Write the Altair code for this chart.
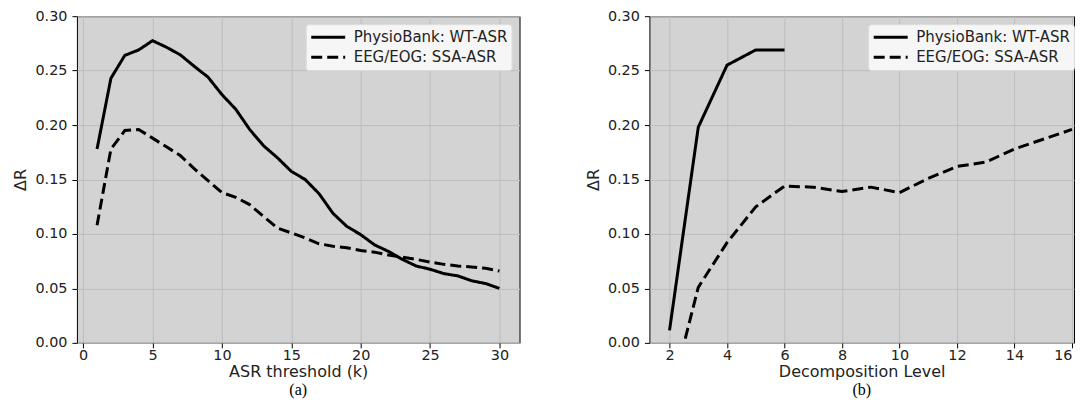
import altair as alt
import pandas as pd

series_names = ["PhysioBank: WT-ASR", "EEG/EOG: SSA-ASR"]

# Panel (a): Delta R vs ASR threshold k
k_vals = list(range(1, 31))
wt_asr_k = [0.178, 0.243, 0.264, 0.269, 0.2775, 0.2715, 0.2645, 0.254, 0.244, 0.228,
            0.2145, 0.196, 0.181, 0.170, 0.1575, 0.150, 0.137, 0.119, 0.107, 0.0994,
            0.090, 0.084, 0.0767, 0.0706, 0.0676, 0.0636, 0.0615, 0.057, 0.0545, 0.050]
ssa_asr_k = [0.108, 0.178, 0.195, 0.196, 0.188, 0.180, 0.172, 0.160, 0.149, 0.138,
             0.1336, 0.127, 0.116, 0.1055, 0.101, 0.0964, 0.091, 0.0888, 0.0873, 0.0848,
             0.0833, 0.0806, 0.0788, 0.0767, 0.0742, 0.0721, 0.0706, 0.0697, 0.0685, 0.066]

# Panel (b): Delta R vs decomposition level
levels_wt = [2, 3, 4, 5, 6]
wt_level = [0.0115, 0.198, 0.255, 0.269, 0.269]
levels_ssa = list(range(2, 17))
ssa_level = [-0.053, 0.051, 0.092, 0.125, 0.144, 0.143, 0.139, 0.143, 0.138, 0.151,
             0.162, 0.166, 0.178, 0.187, 0.196]

y_ticks = [0.0, 0.05, 0.10, 0.15, 0.20, 0.25, 0.30]
x_ticks_a = [0, 5, 10, 15, 20, 25, 30]
x_ticks_b = [2, 4, 6, 8, 10, 12, 14, 16]

df_a = pd.concat([
    pd.DataFrame({"x": k_vals, "y": wt_asr_k, "series": series_names[0]}),
    pd.DataFrame({"x": k_vals, "y": ssa_asr_k, "series": series_names[1]}),
])
df_b = pd.concat([
    pd.DataFrame({"x": levels_wt, "y": wt_level, "series": series_names[0]}),
    pd.DataFrame({"x": levels_ssa, "y": ssa_level, "series": series_names[1]}),
])


def legend(lx):
    return alt.Legend(
        title=None, orient="none", legendX=lx, legendY=8,
        symbolType="stroke", symbolSize=1156, symbolStrokeWidth=3,
        clipHeight=18, rowPadding=2, padding=4, labelOffset=7,
        labelFont="DejaVu Sans", labelFontSize=15, labelColor="#222222",
        fillColor="#f6f6f6", strokeColor="#dddddd", cornerRadius=3,
    )


def panel(df, xdomain, xticks, xtitle, label, width, lx, flush):
    return alt.Chart(df).mark_line(strokeWidth=3, clip=True).encode(
        x=alt.X("x:Q", scale=alt.Scale(domain=xdomain, nice=False, zero=False),
                axis=alt.Axis(values=xticks, title=xtitle, format="d",
                              labelPadding=1, titlePadding=1, labelFlush=flush)),
        y=alt.Y("y:Q", scale=alt.Scale(domain=[0, 0.3], nice=False),
                axis=alt.Axis(values=y_ticks, format=".2f", title="ΔR",
                              labelPadding=5, titlePadding=6)),
        color=alt.Color("series:N", scale=alt.Scale(domain=series_names, range=["black", "black"]),
                        legend=legend(lx)),
        strokeDash=alt.StrokeDash("series:N",
                                  scale=alt.Scale(domain=series_names, range=[[1, 0], [11, 5]]),
                                  legend=legend(lx)),
        detail="series:N",
    ).properties(
        width=width, height=327,
        title=alt.TitleParams(label, orient="bottom", font="Liberation Serif", fontSize=16,
                              fontWeight="normal", color="black", offset=3, anchor="middle"),
    )


left = panel(df_a, [-0.45, 31.45], x_ticks_a, "ASR threshold (k)", "(a)", 443, 229, False)
right = panel(df_b, [1.3, 16.07], x_ticks_b, "Decomposition Level", "(b)", 425, 219, 6)

chart = alt.hconcat(left, right, spacing=64).resolve_scale(
    color="independent", strokeDash="independent"
).resolve_legend(
    color="independent", strokeDash="independent"
).properties(
    padding={"left": 4, "top": -1, "right": 0, "bottom": 0}
).configure_view(
    fill="#d3d3d3", stroke="black", strokeWidth=1
).configure_axis(
    labelFont="DejaVu Sans", labelFontSize=14.4, labelColor="#222222",
    titleFont="DejaVu Sans", titleFontSize=16, titleFontWeight="normal", titleColor="#222222",
    tickColor="black", tickSize=5, domain=False,
    gridColor="#bdbdbd", gridWidth=1,
)

chart.save("out.html", embed_options={"renderer": "svg", "actions": False})
